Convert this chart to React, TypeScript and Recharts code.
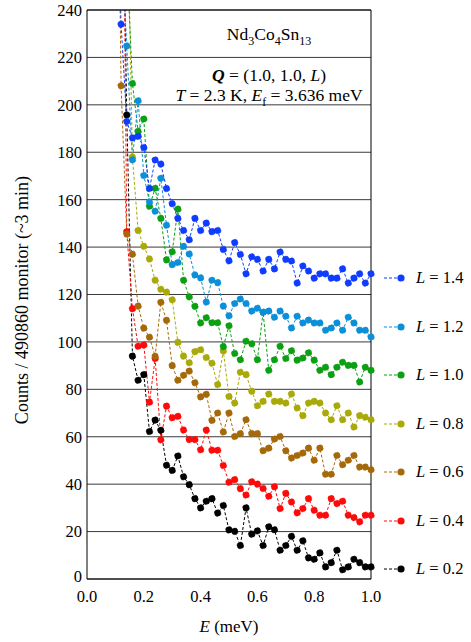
import { LineChart, Line, XAxis, YAxis, CartesianGrid } from "recharts";

// energy transfer (meV)
const energies = [
  0.1, 0.12, 0.14, 0.16, 0.18, 0.2, 0.22, 0.24, 0.26, 0.28, 0.3, 0.32, 0.34, 0.36, 0.38, 0.4,
  0.42, 0.44, 0.46, 0.48, 0.5, 0.52, 0.54, 0.56, 0.58, 0.6, 0.62, 0.64, 0.66, 0.68, 0.7, 0.72,
  0.74, 0.76, 0.78, 0.8, 0.82, 0.84, 0.86, 0.88, 0.9, 0.92, 0.94, 0.96, 0.98, 1.0,
];

const countsL14 = [
  320, 234, 193, 186, 186.7, 182, 164.7, 176.7, 175, 164.7, 158.3, 152.1, 147, 143.1, 152.1, 147,
  150.1, 146.5, 147, 139, 134.2, 141.9, 136.9, 128.7, 135.9, 134.8, 129.9, 134.8, 130.8, 137.9,
  134.8, 134.1, 124.8, 132, 129.9, 126.9, 128.7, 128.7, 126.9, 126.9, 130.8, 124.8, 126.9, 128.7,
  124.8, 128.7,
];
const countsL12 = [
  340, 270, 224.8, 176.8, 201.7, 170.2, 159, 155.1, 169, 149.2, 132.6, 133.5, 140.3, 137.1, 128.2,
  127, 116.8, 126, 125, 115.1, 111, 116.2, 118.1, 116.2, 113, 114.2, 112.5, 113, 110.4, 113, 110.8,
  105.9, 110.8, 108, 109.2, 108, 108, 104.9, 105.9, 108, 104.9, 110.4, 108, 104.9, 104.9, 102.1,
];
const countsL10 = [
  400, 330, 262, 209, 188.8, 194, 157.2, 164.8, 152.1, 134.6, 138, 156, 126, 119, 115, 108, 110.2,
  108.1, 108.1, 98, 106.8, 95.1, 92.5, 100.3, 99.2, 92.5, 112.5, 88, 92.5, 98.2, 93, 96.3, 92.3,
  93.2, 95.4, 92.3, 88, 89.3, 86.2, 89.3, 91.4, 90.1, 90.1, 83.1, 89.3, 88,
];
const countsL08 = [
  450, 400, 300, 178, 147, 140.3, 135, 126, 122.2, 121, 117.8, 99.8, 94, 91.2, 95.9, 96.7, 93.4, 91,
  82, 96.2, 77, 74.2, 87.2, 86.2, 79.2, 73.1, 74.9, 78, 74.9, 74.9, 74.2, 78, 72.1, 68.9, 74.2, 74.9,
  74.2, 70, 67.2, 73.1, 67.2, 70, 64.1, 68.9, 68.2, 67.2,
];
const countsL06 = [
  400, 208, 145.5, 137, 115.1, 105.8, 102, 93.9, 116.7, 109.1, 90, 83.8, 85.9, 87.7, 82.8, 76.8,
  77.9, 66.9, 70, 62, 70, 60.1, 61.3, 67.2, 61.3, 61.3, 54.1, 55.2, 59, 60.1, 54.1, 51, 52.1, 53.1,
  55.2, 50.1, 55.2, 44.2, 44.2, 52.1, 48.2, 50.1, 52.1, 47.2, 47.2, 46.1,
];
const countsL04 = [
  500, 400, 146.5, 114, 98.2, 98.7, 74.6, 93, 58.7, 72.9, 68, 68.6, 62.8, 58.8, 58.8, 54.5, 62.8,
  54.3, 54.3, 47.9, 40.8, 41.9, 38.1, 35.4, 41, 40, 38.2, 34.9, 38.9, 29.7, 36.1, 32.5, 27.9, 29.7,
  33.9, 29, 26.9, 26.9, 33.9, 31.8, 32.8, 26.9, 25.9, 24.1, 26.9, 26.9,
];
const countsL02 = [
  500, 350, 195.7, 94, 83.8, 86.2, 62.2, 67, 62.7, 48, 45.8, 51.9, 43.1, 39.8, 33.9, 30, 32.8, 33.9,
  27.8, 31, 20.7, 20.1, 14.1, 30, 18.9, 20.3, 14.1, 22, 20.8, 12.1, 14.1, 18, 12.1, 16.1, 8.9, 8.3,
  11, 5.1, 6.9, 12.1, 3.9, 5.1, 8.3, 6.9, 5.1, 5.1,
];

const xTicks = [0, 0.2, 0.4, 0.6, 0.8, 1.0];
const yTicks = [0, 20, 40, 60, 80, 100, 120, 140, 160, 180, 200, 220, 240];

// drawn low L first so the high L traces sit on top
const series = [
  { key: "L02", label: "0.2", color: "#000000", values: countsL02 },
  { key: "L04", label: "0.4", color: "#ff0a0a", values: countsL04 },
  { key: "L06", label: "0.6", color: "#a5690a", values: countsL06 },
  { key: "L08", label: "0.8", color: "#a9a90a", values: countsL08 },
  { key: "L10", label: "1.0", color: "#0aa012", values: countsL10 },
  { key: "L12", label: "1.2", color: "#0a8fd8", values: countsL12 },
  { key: "L14", label: "1.4", color: "#0f3cff", values: countsL14 },
];

const data = energies.map((e, i) => {
  const row: Record<string, number> = { E: e };
  series.forEach((s) => {
    row[s.key] = s.values[i];
  });
  return row;
});

const serif = "'Liberation Serif', 'Times New Roman', serif";

// y tick label; the zero sits a hair higher so it clears the 0.0 below it
const YTick = ({ x, y, payload }: any) => (
  <text
    x={x}
    y={payload.value === 0 ? y - 2.5 : y}
    dy="0.355em"
    textAnchor="end"
    fill="#000"
    fontSize={16.5}
    fontFamily={serif}
  >
    {payload.value}
  </text>
);

function SideLegend() {
  const items = [...series].reverse();
  return (
    <div style={{ position: "absolute", left: 382, top: 254, fontFamily: serif, fontSize: 16.5 }}>
      {items.map((s) => (
        <div key={s.key} style={{ display: "flex", alignItems: "center", height: 48.5, whiteSpace: "nowrap" }}>
          <svg width={28} height={24} style={{ display: "block" }}>
            <line x1={2} y1={12} x2={18} y2={12} stroke={s.color} strokeDasharray="3 2" />
            <circle cx={19} cy={12} r={3.6} fill={s.color} />
          </svg>
          <span style={{ marginLeft: 6 }}>
            <i>L</i> = {s.label}
          </span>
        </div>
      ))}
    </div>
  );
}

export default function App() {
  return (
    <div style={{ position: "absolute", left: 0, top: 0, width: 471, height: 642, background: "#fff" }}>
      <LineChart width={471} height={642} data={data} margin={{ top: 10, right: 100, bottom: 33, left: 27 }}>
        <CartesianGrid vertical={false} stroke="#3a3a3a" />
        <XAxis
          dataKey="E"
          type="number"
          domain={[0, 1]}
          ticks={xTicks}
          tickFormatter={(v: number) => v.toFixed(1)}
          tickLine={false}
          tickSize={0}
          tickMargin={11}
          axisLine={{ stroke: "#000" }}
          tick={{ fill: "#000", fontSize: 16.5, fontFamily: serif }}
          height={30}
        />
        <XAxis
          xAxisId="inner"
          dataKey="E"
          type="number"
          domain={[0, 1]}
          ticks={xTicks}
          mirror
          tick={false}
          tickLine={{ stroke: "#000" }}
          tickSize={6}
          axisLine={false}
          height={1}
        />
        <XAxis
          xAxisId="top"
          orientation="top"
          dataKey="E"
          type="number"
          domain={[0, 1]}
          ticks={xTicks}
          mirror
          tick={false}
          tickLine={{ stroke: "#000" }}
          tickSize={6}
          axisLine={{ stroke: "#000" }}
          height={1}
        />
        <YAxis
          type="number"
          domain={[0, 240]}
          ticks={yTicks}
          allowDataOverflow
          tickLine={false}
          tickSize={0}
          tickMargin={5}
          axisLine={{ stroke: "#000" }}
          tick={<YTick />}
          width={60}
        />
        <YAxis
          yAxisId="right"
          orientation="right"
          type="number"
          domain={[0, 240]}
          ticks={yTicks}
          mirror
          tick={false}
          tickLine={false}
          axisLine={{ stroke: "#000" }}
          width={1}
        />
        {series.map((s) => (
          <Line
            key={s.key}
            dataKey={s.key}
            type="linear"
            stroke={s.color}
            strokeWidth={1}
            strokeDasharray="3 2"
            dot={{ r: 3.3, fill: s.color, stroke: s.color, strokeWidth: 0.6 }}
            activeDot={false}
            isAnimationActive={false}
          />
        ))}
      </LineChart>

      {/* sample and scan conditions */}
      <div
        style={{
          position: "absolute",
          left: 269,
          top: 24,
          transform: "translateX(-50%)",
          fontFamily: serif,
          fontSize: 17.5,
          lineHeight: "20px",
          textAlign: "center",
          whiteSpace: "nowrap",
        }}
      >
        Nd<sub style={{ fontSize: 12 }}>3</sub>Co<sub style={{ fontSize: 12 }}>4</sub>Sn
        <sub style={{ fontSize: 12 }}>13</sub>
      </div>
      <div
        style={{
          position: "absolute",
          left: 269,
          top: 65,
          transform: "translateX(-50%)",
          fontFamily: serif,
          fontSize: 17.5,
          lineHeight: "20px",
          textAlign: "center",
          whiteSpace: "nowrap",
        }}
      >
        <b>
          <i>Q</i>
        </b>{" "}
        = (1.0, 1.0, <i>L</i>)
        <br />
        <i>T</i> = 2.3 K, <i>E</i>
        <sub style={{ fontSize: 12 }}>f</sub> = 3.636 meV
      </div>

      <SideLegend />

      {/* axis titles */}
      <div
        style={{
          position: "absolute",
          left: 22,
          top: 300,
          transform: "translate(-50%, -50%) rotate(-90deg)",
          fontFamily: serif,
          fontSize: 18,
          whiteSpace: "nowrap",
        }}
      >
        Counts / 490860 monitor (~3 min)
      </div>
      <div
        style={{
          position: "absolute",
          left: 229,
          top: 617,
          transform: "translateX(-50%)",
          fontFamily: serif,
          fontSize: 17,
          whiteSpace: "nowrap",
        }}
      >
        <i>E</i> (meV)
      </div>
    </div>
  );
}
